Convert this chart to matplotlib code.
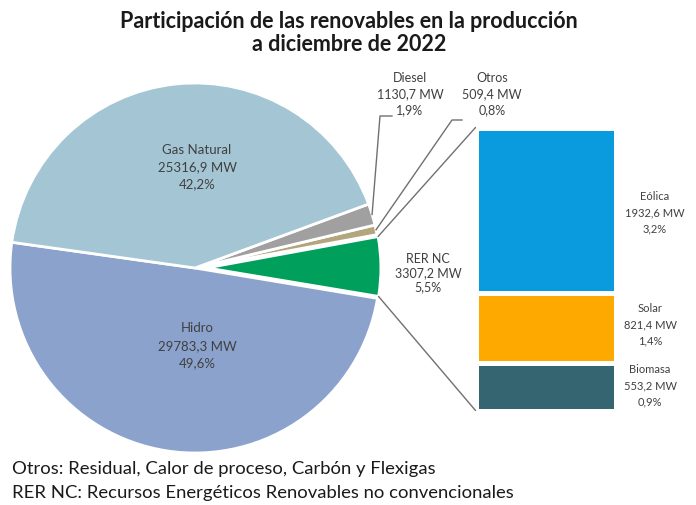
import numpy as np
import matplotlib
matplotlib.use('Agg')
import matplotlib.pyplot as plt
from matplotlib.patches import ConnectionPatch

plt.rcParams['font.family'] = ['Lato', 'DejaVu Sans']

# pie slices (counter-clockwise from the Hidro / Gas Natural border)
pie_names = ['Hidro', 'RER NC', 'Otros', 'Diesel', 'Gas Natural']
pie_mw = [29783.3, 3307.2, 509.4, 1130.7, 25316.9]
pie_colors = ['#8ba2cc', '#00a05c', '#b3a67e', '#a0a0a0', '#a4c6d4']

# RER NC breakdown (bottom to top)
rer_names = ['Biomasa', 'Solar', 'Eólica']
rer_mw = [553.2, 821.4, 1932.6]
rer_colors = ['#356570', '#fda900', '#0a9bde']

title = 'Participación de las renovables en la producción\na diciembre de 2022'
notes = ['Otros: Residual, Calor de proceso, Carbón y Flexigas',
         'RER NC: Recursos Energéticos Renovables no convencionales']

total = sum(pie_mw)
W, H = 696, 505
txt_col = '#404040'


def fmt(v):
    return f'{v:.1f}'.replace('.', ',')


def label(name, v):
    return f'{name}\n{fmt(v)} MW\n{fmt(v / total * 100)}%'


fig = plt.figure(figsize=(W / 100, H / 100), dpi=100)
ax = fig.add_axes([0, 0, 1, 1])

cx, cy, R = 195, H - 268, 185
explode = [0, 12, 0, 0, 0]   # pixels
wedges, _ = ax.pie(pie_mw, colors=pie_colors, explode=explode, startangle=172,
                   center=(cx, cy), radius=R,
                   wedgeprops=dict(edgecolor='white', linewidth=2))
wedges[1].set_radius(R * 0.94)
ax.set_xlim(0, W)
ax.set_ylim(0, H)
ax.set_aspect('equal')
ax.axis('off')

# labels (image pixel positions, y from top) and line spacing
inside = {'Gas Natural': (197, 167), 'Hidro': (197, 346)}
outside = {'RER NC': (428, 273, 1.2), 'Diesel': (410, 94, 1.4), 'Otros': (492, 94, 1.4)}
for i, name in enumerate(pie_names):
    if name in inside:
        x, y = inside[name]
        ax.text(x, H - y, label(name, pie_mw[i]), ha='center', va='center',
                fontsize=9.5, color=txt_col, linespacing=1.55)
    else:
        x, y, ls = outside[name]
        ax.text(x, H - y, label(name, pie_mw[i]), ha='center', va='center',
                fontsize=9, color=txt_col, linespacing=ls)

# leader lines for the small slices
elbows = {'Diesel': [(392, 116), (380, 116)], 'Otros': [(462, 120), (452, 120)]}
for i, name in enumerate(pie_names):
    if name in elbows:
        w = wedges[i]
        mid = np.deg2rad((w.theta1 + w.theta2) / 2)
        ax_, ay_ = w.center[0] + w.r * np.cos(mid), w.center[1] + w.r * np.sin(mid)
        pts = [(x, H - y) for x, y in elbows[name]] + [(ax_, ay_)]
        ax.plot([p[0] for p in pts], [p[1] for p in pts], color='#707070', lw=1)

# stacked bar of RER NC
lw_gap = 3.6
bx0, bx1, by0, by1 = 475.5, 615.5, 127.5, 410.5
ax2 = fig.add_axes([bx0 / W, (H - by1) / H, (bx1 - bx0) / W, (by1 - by0) / H])
bottoms = np.concatenate([[0], np.cumsum(rer_mw)[:-1]])
ax2.bar(0, rer_mw, bottom=bottoms, width=1, color=rer_colors,
        edgecolor='white', linewidth=lw_gap)
ax2.set_xlim(-0.5, 0.5)
ax2.set_ylim(0, sum(rer_mw))
ax2.axis('off')

bar_lab = {'Eólica': (655, 213), 'Solar': (650, 325), 'Biomasa': (650, 386)}
for i, name in enumerate(rer_names):
    x, y = bar_lab[name]
    ax.text(x, H - y, label(name, rer_mw[i]), ha='center', va='center',
            fontsize=8, color=txt_col, linespacing=1.6)

# connectors from the exploded slice to the bar
g = wedges[1]
for th, yb in [(g.theta2, sum(rer_mw)), (g.theta1, 0)]:
    t = np.deg2rad(th)
    pA = (g.center[0] + g.r * np.cos(t), g.center[1] + g.r * np.sin(t))
    con = ConnectionPatch(xyA=pA, coordsA=ax.transData, xyB=(-0.5, yb),
                          coordsB=ax2.transData, color='#707070', lw=1)
    fig.add_artist(con)

fig.text(0.5015, 1 - 33 / H, title, ha='center', va='center', fontsize=15.5,
         fontweight='bold', color='#1a1a1a', linespacing=1.15)
for k, note in enumerate(notes):
    fig.text(12 / W, 1 - (469 + 24 * k) / H, note, ha='left', va='center',
             fontsize=13.3, color='#1a1a1a')

fig.savefig('out.png', dpi=100)
